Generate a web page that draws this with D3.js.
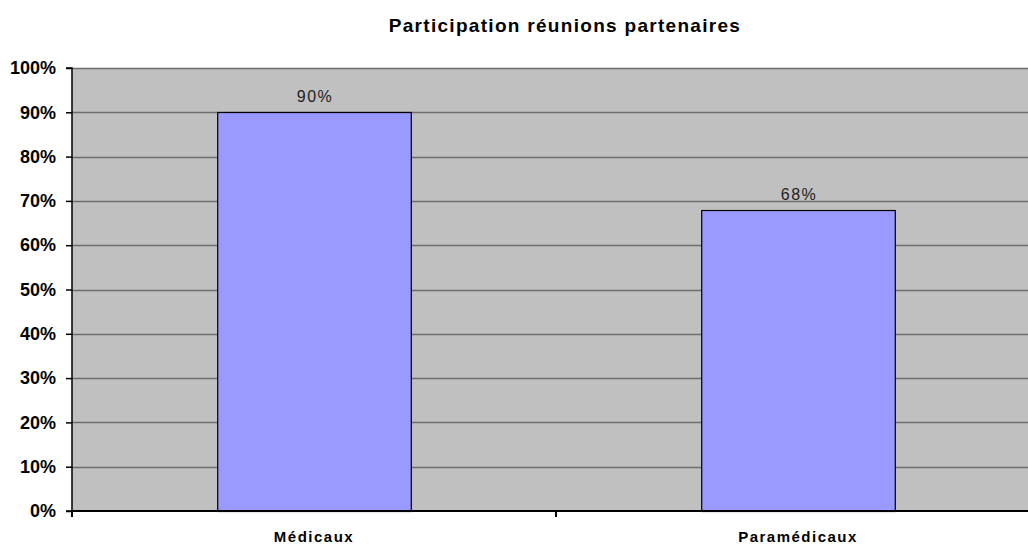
<!DOCTYPE html>
<html>
<head>
<meta charset="utf-8">
<script src="https://cdn.jsdelivr.net/npm/d3@7"></script>
<style>
body { margin: 0; background: #fff; }
text { font-family: "Liberation Sans", Arial, sans-serif; }
</style>
</head>
<body>
<div></div>
<script>
var width = 1028;
var height = 547;

var categories = ["Médicaux", "Paramédicaux"];
var values = [0.90, 0.68];
var valueLabels = ["90%", "68%"];
var yTicks = [0, 0.1, 0.2, 0.3, 0.4, 0.5, 0.6, 0.7, 0.8, 0.9, 1.0];

var plotLeft = 72, plotTop = 68, plotBottom = 511, plotRight = 1040;

var svg = d3.select("div")
    .append("svg")
    .attr("width", width)
    .attr("height", height);

var x = d3.scaleBand()
    .domain(categories)
    .range([plotLeft, plotRight])
    .paddingInner(0.6)
    .paddingOuter(0.3);

var y = d3.scaleLinear()
    .domain([0, 1])
    .range([plotBottom, plotTop]);

// plot background
svg.append("rect")
    .attr("x", plotLeft)
    .attr("y", plotTop)
    .attr("width", plotRight - plotLeft)
    .attr("height", plotBottom - plotTop)
    .attr("fill", "#c0c0c0");

// grid lines
svg.selectAll(".grid")
    .data(yTicks.slice(1))
    .enter()
    .append("line")
    .attr("x1", plotLeft)
    .attr("x2", plotRight)
    .attr("y1", function (d) { return Math.round(y(d)) + 0.5; })
    .attr("y2", function (d) { return Math.round(y(d)) + 0.5; })
    .attr("stroke", "#6e6e6e")
    .attr("stroke-width", 1.5);

// bars
svg.selectAll(".bar")
    .data(values)
    .enter()
    .append("rect")
    .attr("x", function (d, i) { return x(categories[i]) + 0.5; })
    .attr("y", function (d) { return Math.round(y(d)) + 0.5; })
    .attr("width", x.bandwidth())
    .attr("height", function (d) { return plotBottom - Math.round(y(d)); })
    .attr("fill", "#9999ff")
    .attr("stroke", "#000")
    .attr("stroke-width", 1.2);

// value labels
svg.selectAll(".vlabel")
    .data(values)
    .enter()
    .append("text")
    .attr("x", function (d, i) { return x(categories[i]) + x.bandwidth() / 2 + 1; })
    .attr("y", function (d) { return y(d) - 10; })
    .attr("text-anchor", "middle")
    .style("font-size", "16px")
    .style("letter-spacing", "1.5px")
    .attr("fill", "#222")
    .text(function (d, i) { return valueLabels[i]; });

// y axis
var yAxis = d3.axisLeft(y)
    .tickValues(yTicks)
    .tickFormat(d3.format(".0%"))
    .tickSize(6)
    .tickPadding(10);

var gy = svg.append("g")
    .attr("transform", "translate(" + plotLeft + ",0)")
    .call(yAxis);
gy.select(".domain").attr("stroke", "#000").attr("stroke-width", 1.5)
    .attr("d", "M-6," + plotTop + "H0V" + plotBottom + "H-6");
gy.selectAll("line").attr("stroke", "#000").attr("stroke-width", 1.5);
gy.selectAll("text")
    .style("font-size", "18px")
    .style("font-weight", "bold")
    .attr("fill", "#000");

// x axis
var xAxis = d3.axisBottom(x)
    .tickSize(0)
    .tickPadding(20);

var gx = svg.append("g")
    .attr("transform", "translate(0," + plotBottom + ")")
    .call(xAxis);
gx.select(".domain").attr("stroke", "#000").attr("stroke-width", 2)
    .attr("d", "M" + plotLeft + ",0H" + plotRight);
gx.selectAll("text")
    .style("font-size", "15px")
    .style("font-weight", "bold")
    .style("letter-spacing", "1.5px")
    .attr("fill", "#000");

// category separator ticks
svg.selectAll(".sep")
    .data([plotLeft, (plotLeft + plotRight) / 2])
    .enter()
    .append("line")
    .attr("x1", function (d) { return d; })
    .attr("x2", function (d) { return d; })
    .attr("y1", plotBottom)
    .attr("y2", plotBottom + 6)
    .attr("stroke", "#000")
    .attr("stroke-width", 2);

// title
svg.append("text")
    .attr("x", 565)
    .attr("y", 32)
    .attr("text-anchor", "middle")
    .style("font-size", "19px")
    .style("font-weight", "bold")
    .style("letter-spacing", "1.3px")
    .text("Participation réunions partenaires");
</script>
</body>
</html>
